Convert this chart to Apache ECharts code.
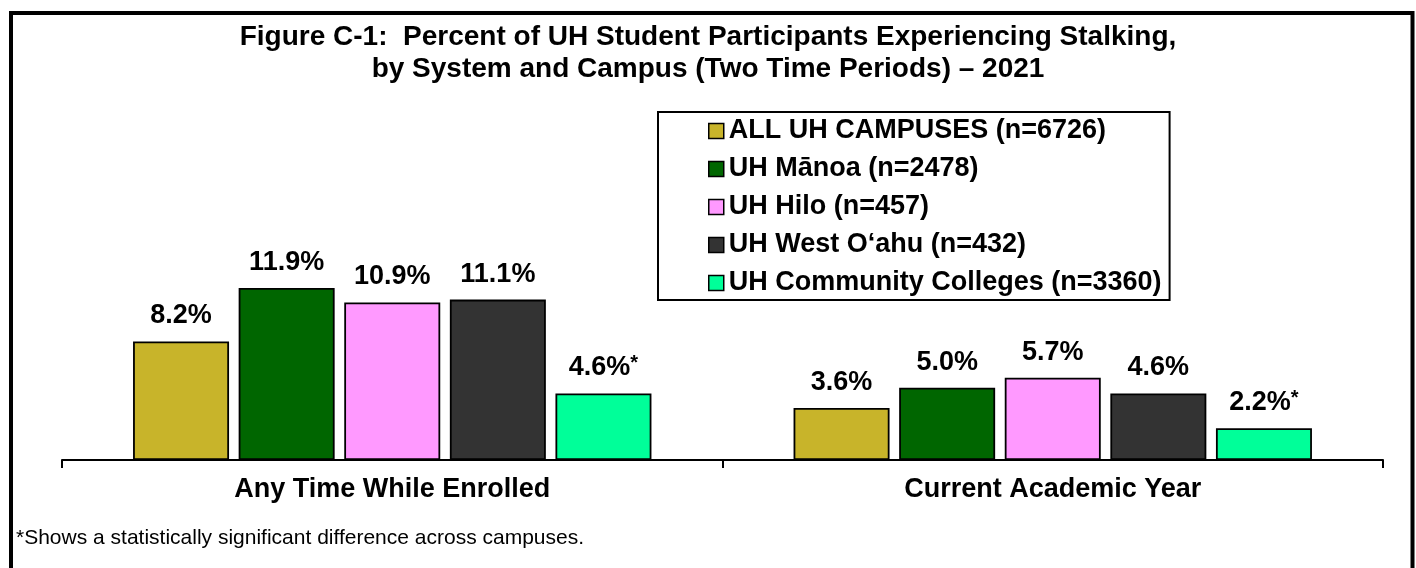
<!DOCTYPE html>
<html>
<head>
<meta charset="utf-8">
<script src="https://cdn.jsdelivr.net/npm/echarts@6/dist/echarts.min.js"></script>
<style>html,body{margin:0;padding:0;background:#fff}#c{width:1416px;height:568px}</style>
</head>
<body>
<div id="c"></div>
<script>
const categories = ['Any Time While Enrolled', 'Current Academic Year'];
const seriesNames = [
  'ALL UH CAMPUSES (n=6726)',
  'UH M\u0101noa (n=2478)',
  'UH Hilo (n=457)',
  'UH West O\u2018ahu (n=432)',
  'UH Community Colleges (n=3360)'
];
const allUH = [8.2, 3.6];
const manoa = [11.9, 5.0];
const hilo = [10.9, 5.7];
const westOahu = [11.1, 4.6];
const communityColleges = [4.6, 2.2];
const significant = [
  [false, false],
  [false, false],
  [false, false],
  [false, false],
  [true, true]
];
const colors = ['#C8B42A', '#006600', '#FF99FF', '#333333', '#00FF99'];
const titleText = 'Figure C-1:  Percent of UH Student Participants Experiencing Stalking,\nby System and Campus (Two Time Periods) \u2013 2021';
const footnote = '*Shows a statistically significant difference across campuses.';

const values = [allUH, manoa, hilo, westOahu, communityColleges];
const FONT = '"Liberation Sans", Arial, sans-serif';

const chart = echarts.init(document.getElementById('c'), null, {renderer: 'canvas'});
const series = values.map((vals, i) => ({
  name: seriesNames[i],
  type: 'bar',
  barWidth: 96,
  barGap: '10%',
  data: vals,
  itemStyle: {color: colors[i], borderColor: '#000', borderWidth: 1.8},
  label: {
    show: true,
    position: 'top',
    distance: 12,
    formatter: p => '{v|' + p.value.toFixed(1) + '%}' + (significant[i][p.dataIndex] ? '{s|*}' : ''),
    rich: {
      v: {fontFamily: FONT, fontWeight: 'bold', fontSize: 27, color: '#000'},
      s: {fontFamily: FONT, fontWeight: 'bold', fontSize: 20, color: '#000', padding: [0, 0, 8, 0]}
    }
  }
}));

chart.setOption({
  animation: false,
  backgroundColor: '#fff',
  color: colors,
  title: {
    text: titleText,
    left: 'center',
    top: 16,
    textStyle: {fontFamily: FONT, fontWeight: 'bold', fontSize: 28, lineHeight: 32, color: '#000'}
  },
  legend: {
    orient: 'vertical',
    left: 658,
    top: 112,
    padding: [5, 8, 3, 50],
    itemWidth: 15,
    itemHeight: 15,
    itemGap: 10,
    itemTextGap: 4,
    borderColor: '#000',
    borderWidth: 2,
    icon: 'rect',
    itemStyle: {borderColor: '#000', borderWidth: 1.5},
    textStyle: {fontFamily: FONT, fontWeight: 'bold', fontSize: 27, lineHeight: 28, color: '#000'},
    data: seriesNames
  },
  grid: {left: 62, right: 33, bottom: 108, top: 257.7},
  xAxis: {
    type: 'category',
    data: categories,
    axisLine: {lineStyle: {color: '#000', width: 2}},
    axisTick: {show: true, length: 8, lineStyle: {color: '#000', width: 2}},
    axisLabel: {fontFamily: FONT, fontWeight: 'bold', fontSize: 27, color: '#000', margin: 16}
  },
  yAxis: {type: 'value', min: 0, max: 14, show: false},
  series: series,
  graphic: [
    {type: 'rect', shape: {x: 11, y: 13, width: 1401.5, height: 620}, style: {fill: 'none', stroke: '#000', lineWidth: 4}, silent: true},
    {type: 'text', left: 16, top: 528, style: {text: footnote, fontFamily: FONT, fontSize: 21, fill: '#000'}}
  ]
});
</script>
</body>
</html>
